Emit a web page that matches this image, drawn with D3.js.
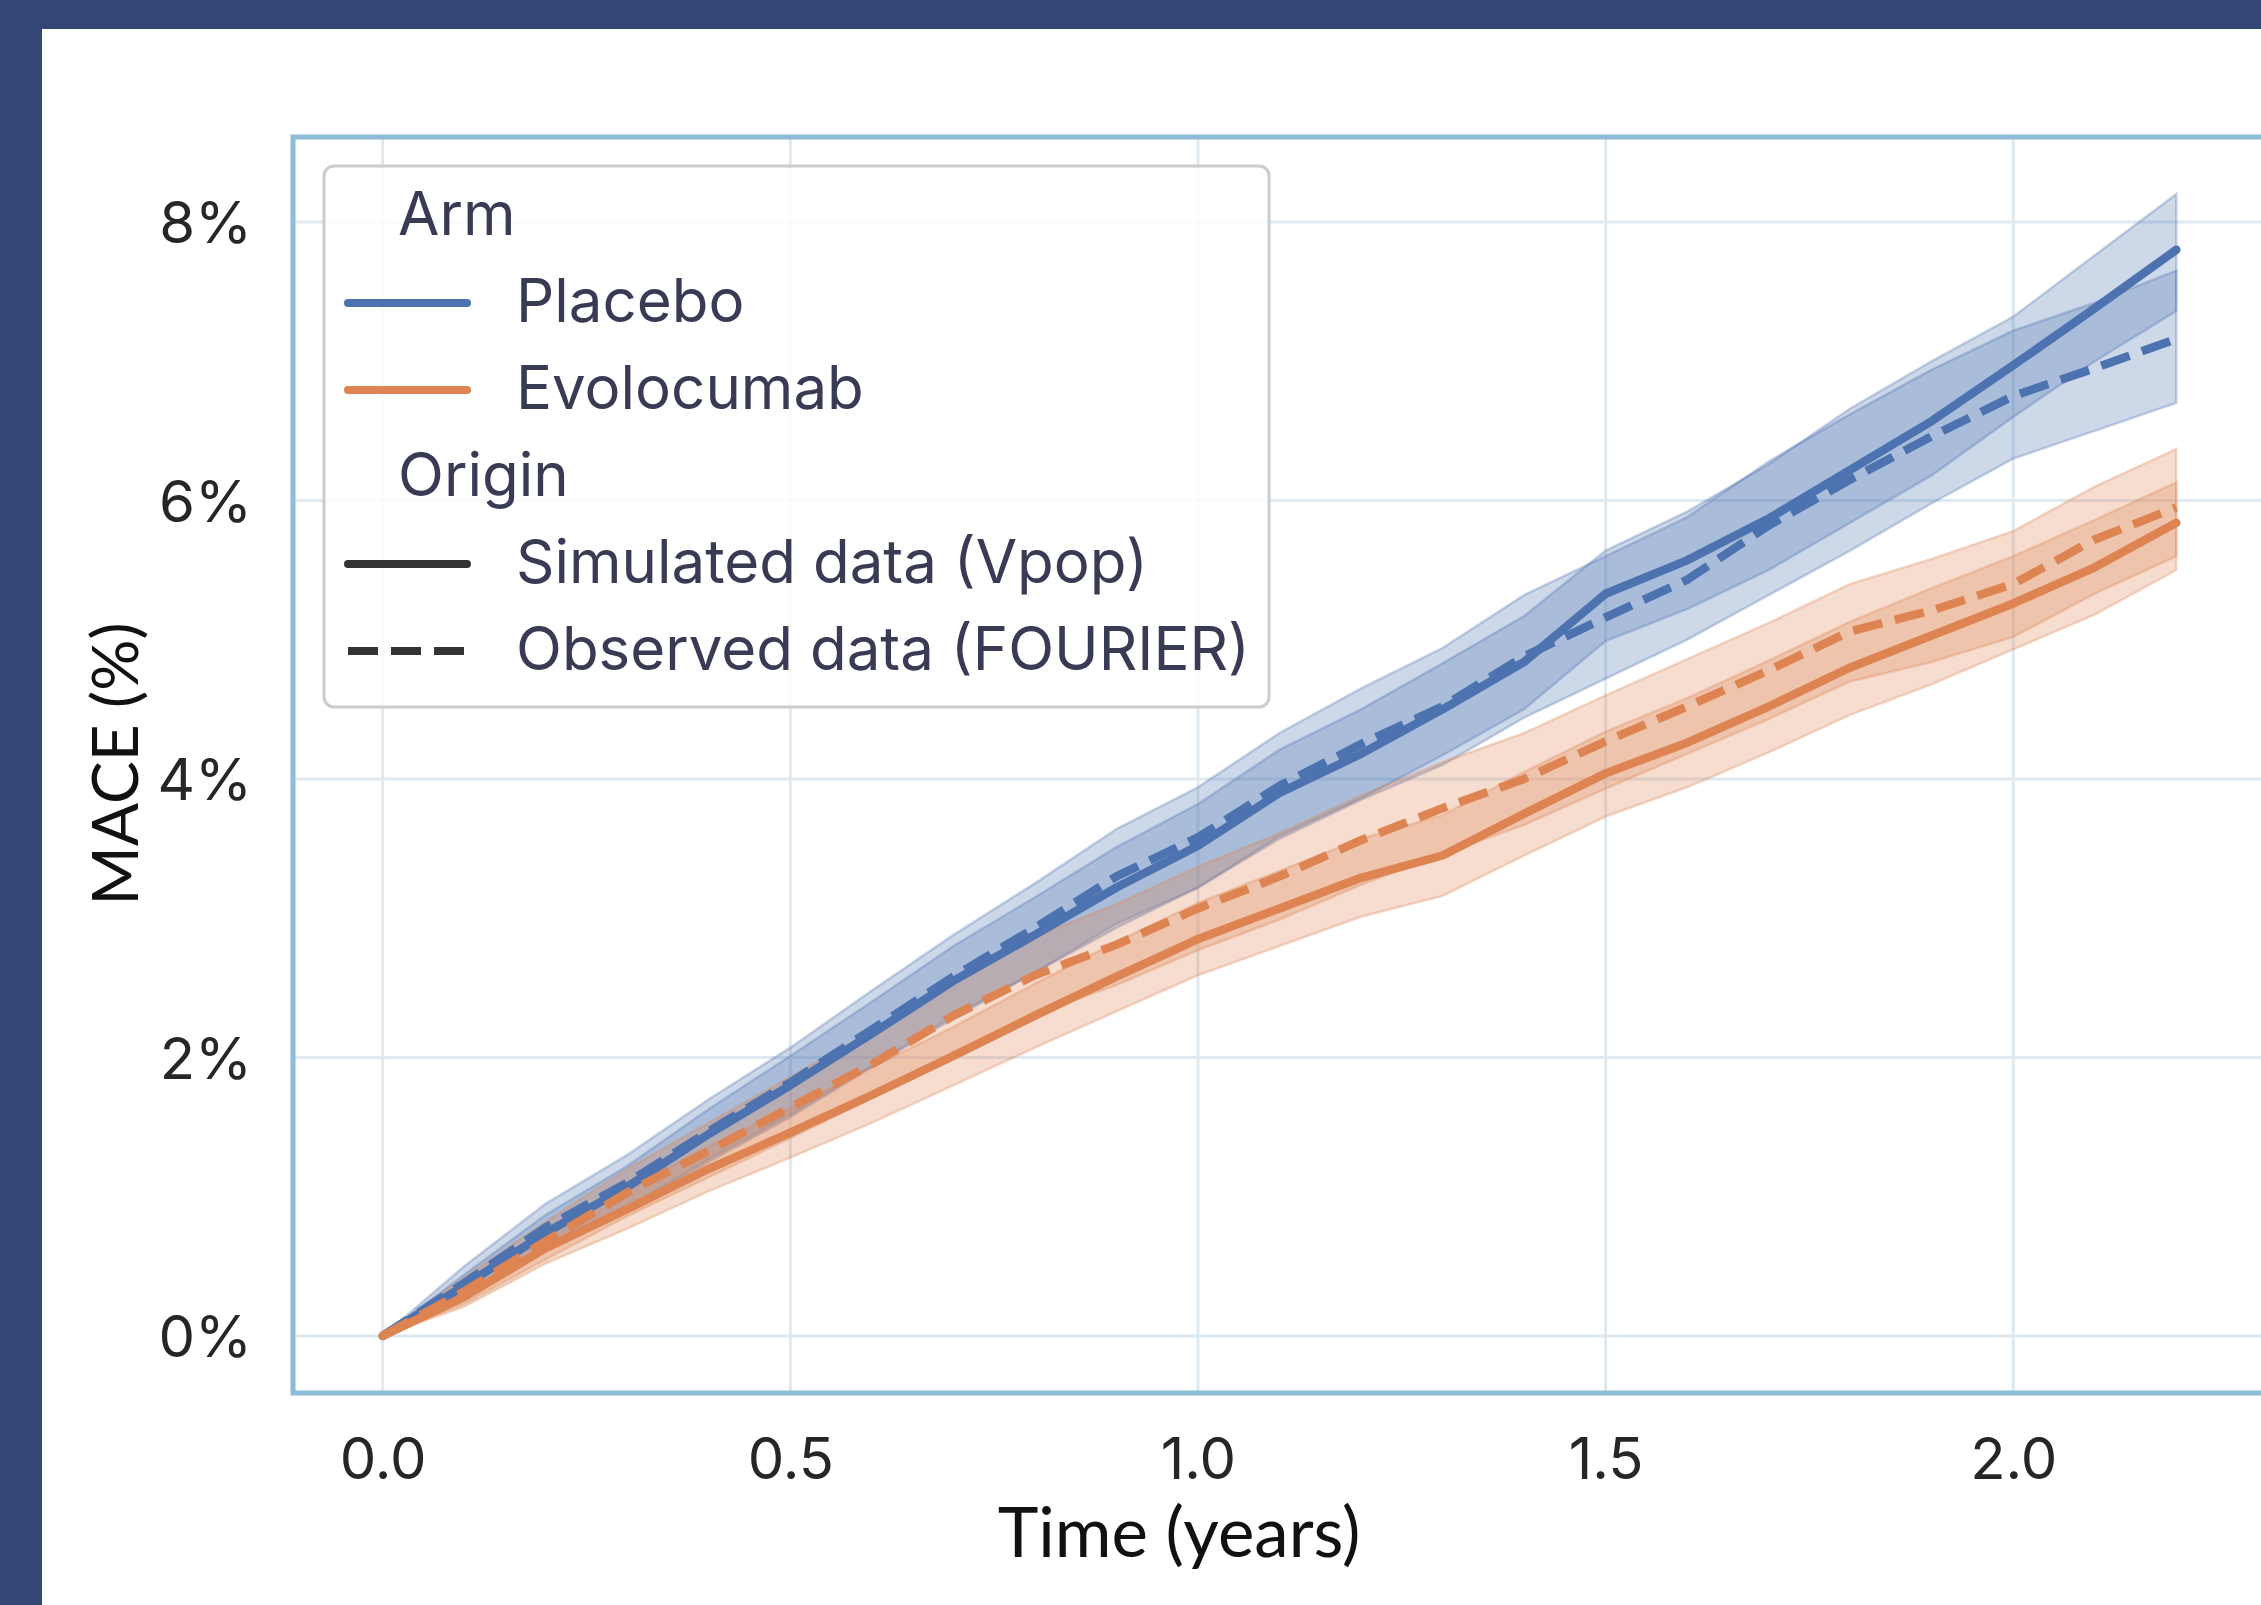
<!DOCTYPE html>
<html>
<head>
<meta charset="utf-8">
<script src="https://cdn.jsdelivr.net/npm/d3@7"></script>
<style>
  html, body { margin: 0; padding: 0; background: #fff; }
  svg { display: block; }
</style>
</head>
<body>
<div id="chart"></div>
<script>
// MACE cumulative incidence, simulated (Vpop) vs observed (FOURIER)

// time points (years)
const times = [0, 0.1, 0.2, 0.3, 0.4, 0.5, 0.6, 0.7, 0.8, 0.9, 1.0, 1.1,
  1.2, 1.3, 1.4, 1.5, 1.6, 1.7, 1.8, 1.9, 2.0, 2.1, 2.2];

// Placebo, simulated (Vpop), % with band
const placeboSim   = [0, 0.36, 0.74, 1.07, 1.45, 1.80, 2.17, 2.55, 2.88, 3.22, 3.52, 3.90, 4.18, 4.50, 4.84, 5.33, 5.57, 5.87, 6.22, 6.57, 6.97, 7.38, 7.80];
const placeboSimLo = [0, 0.28, 0.62, 0.92, 1.27, 1.59, 1.94, 2.30, 2.61, 2.93, 3.22, 3.59, 3.86, 4.17, 4.50, 4.99, 5.22, 5.50, 5.84, 6.18, 6.60, 7.00, 7.36];
const placeboSimHi = [0, 0.44, 0.87, 1.22, 1.63, 2.01, 2.40, 2.80, 3.15, 3.51, 3.82, 4.21, 4.50, 4.83, 5.17, 5.64, 5.92, 6.26, 6.66, 7.00, 7.32, 7.76, 8.20];

// Placebo, observed (FOURIER)
const placeboObs   = [0, 0.38, 0.78, 1.10, 1.47, 1.82, 2.20, 2.58, 2.93, 3.30, 3.58, 3.95, 4.25, 4.52, 4.88, 5.16, 5.43, 5.82, 6.15, 6.46, 6.75, 6.95, 7.16];
const placeboObsLo = [0, 0.27, 0.62, 0.91, 1.25, 1.57, 1.93, 2.28, 2.61, 2.96, 3.22, 3.57, 3.85, 4.10, 4.44, 4.72, 5.00, 5.32, 5.64, 5.98, 6.30, 6.50, 6.70];
const placeboObsHi = [0, 0.50, 0.95, 1.30, 1.70, 2.07, 2.48, 2.88, 3.25, 3.64, 3.94, 4.33, 4.65, 4.94, 5.32, 5.60, 5.88, 6.28, 6.62, 6.94, 7.22, 7.42, 7.65];

// Evolocumab, simulated (Vpop)
const evoSim   = [0, 0.28, 0.63, 0.91, 1.20, 1.46, 1.73, 2.01, 2.30, 2.58, 2.85, 3.07, 3.29, 3.45, 3.75, 4.04, 4.26, 4.52, 4.80, 5.03, 5.26, 5.52, 5.84];
const evoSimLo = [0, 0.21, 0.52, 0.77, 1.04, 1.28, 1.53, 1.80, 2.07, 2.33, 2.59, 2.80, 3.01, 3.16, 3.45, 3.73, 3.94, 4.19, 4.46, 4.68, 4.93, 5.18, 5.50];
const evoSimHi = [0, 0.35, 0.74, 1.05, 1.36, 1.64, 1.93, 2.22, 2.53, 2.83, 3.11, 3.34, 3.57, 3.74, 4.05, 4.34, 4.58, 4.85, 5.13, 5.37, 5.60, 5.86, 6.13];

// Evolocumab, observed (FOURIER)
const evoObs   = [0, 0.32, 0.68, 1.03, 1.33, 1.64, 1.95, 2.30, 2.59, 2.81, 3.07, 3.30, 3.56, 3.79, 4.00, 4.27, 4.52, 4.78, 5.06, 5.21, 5.40, 5.72, 5.95];
const evoObsLo = [0, 0.23, 0.55, 0.86, 1.14, 1.42, 1.71, 2.04, 2.31, 2.52, 2.77, 2.99, 3.24, 3.46, 3.67, 3.93, 4.18, 4.43, 4.70, 4.84, 5.02, 5.33, 5.60];
const evoObsHi = [0, 0.42, 0.82, 1.20, 1.53, 1.86, 2.19, 2.56, 2.87, 3.10, 3.37, 3.61, 3.88, 4.12, 4.33, 4.60, 4.86, 5.12, 5.40, 5.58, 5.78, 6.10, 6.37];

const xTicks = [0, 0.5, 1.0, 1.5, 2.0];
const yTicks = [0, 2, 4, 6, 8];

const armNames = ["Placebo", "Evolocumab"];
const originNames = ["Simulated data (Vpop)", "Observed data (FOURIER)"];
const armColors = { "Placebo": "#4c72b0", "Evolocumab": "#dd8452" };

// build series table from the arrays
const series = [
  { arm: "Placebo", origin: "sim", mid: placeboSim, lo: placeboSimLo, hi: placeboSimHi },
  { arm: "Placebo", origin: "obs", mid: placeboObs, lo: placeboObsLo, hi: placeboObsHi },
  { arm: "Evolocumab", origin: "sim", mid: evoSim, lo: evoSimLo, hi: evoSimHi },
  { arm: "Evolocumab", origin: "obs", mid: evoObs, lo: evoObsLo, hi: evoObsHi }
].map(s => ({
  ...s,
  points: times.map((t, i) => ({ t: t, y: s.mid[i], lo: s.lo[i], hi: s.hi[i] }))
}));

const W = 2261, H = 1605;
const plot = { left: 293, right: 2266, top: 137, bottom: 1393 };

const svg = d3.select("#chart").append("svg")
  .attr("width", W)
  .attr("height", H);

// page background + navy border strips
svg.append("rect").attr("width", W).attr("height", H).attr("fill", "#ffffff");
svg.append("rect").attr("x", 0).attr("y", 0).attr("width", W).attr("height", 29).attr("fill", "#344673");
svg.append("rect").attr("x", 0).attr("y", 0).attr("width", 42).attr("height", H).attr("fill", "#344673");

const x = d3.scaleLinear().domain([-0.11, 2.31]).range([plot.left, plot.right]);
const y = d3.scaleLinear().domain([-0.41, 8.61]).range([plot.bottom, plot.top]);

svg.append("defs").append("clipPath").attr("id", "plot-clip")
  .append("rect")
  .attr("x", plot.left).attr("y", plot.top)
  .attr("width", plot.right - plot.left).attr("height", plot.bottom - plot.top);

// gridlines
const grid = svg.append("g").attr("clip-path", "url(#plot-clip)");
grid.selectAll(".gx").data(xTicks).join("line")
  .attr("x1", d => x(d)).attr("x2", d => x(d))
  .attr("y1", plot.top).attr("y2", plot.bottom)
  .attr("stroke", "#dfe9f1").attr("stroke-width", 3);
grid.selectAll(".gy").data(yTicks).join("line")
  .attr("x1", plot.left).attr("x2", plot.right)
  .attr("y1", d => y(d)).attr("y2", d => y(d))
  .attr("stroke", "#dfe9f1").attr("stroke-width", 3);

const marks = svg.append("g").attr("clip-path", "url(#plot-clip)");

// confidence bands
const area = d3.area()
  .x(d => x(d.t))
  .y0(d => y(d.lo))
  .y1(d => y(d.hi));

marks.selectAll(".band").data(series).join("path")
  .attr("class", "band")
  .attr("d", d => area(d.points))
  .attr("fill", d => armColors[d.arm])
  .attr("fill-opacity", 0.28)
  .attr("stroke", d => armColors[d.arm])
  .attr("stroke-opacity", 0.3)
  .attr("stroke-width", 2.5);

// central lines
const line = d3.line()
  .x(d => x(d.t))
  .y(d => y(d.y));

marks.selectAll(".curve").data(series).join("path")
  .attr("class", "curve")
  .attr("d", d => line(d.points))
  .attr("fill", "none")
  .attr("stroke", d => armColors[d.arm])
  .attr("stroke-width", 8.5)
  .attr("stroke-linejoin", "round")
  .attr("stroke-linecap", d => d.origin === "sim" ? "round" : "butt")
  .attr("stroke-dasharray", d => d.origin === "obs" ? "30,13" : null);

// axes frame
svg.append("rect")
  .attr("x", plot.left).attr("y", plot.top)
  .attr("width", plot.right - plot.left).attr("height", plot.bottom - plot.top)
  .attr("fill", "none")
  .attr("stroke", "#8dbbd9")
  .attr("stroke-width", 5);

// tick labels (no tick marks)
const xAxis = d3.axisBottom(x).tickValues(xTicks).tickFormat(d3.format(".1f")).tickSize(0).tickPadding(0);
const yAxis = d3.axisLeft(y).tickValues(yTicks).tickFormat(d => d + "%").tickSize(0).tickPadding(0);

const gx = svg.append("g").attr("transform", `translate(0,${plot.bottom})`).call(xAxis);
gx.select(".domain").remove();
gx.selectAll("text")
  .attr("y", 86)
  .attr("dy", null)
  .attr("font-family", "Inter, 'Noto Sans', sans-serif")
  .attr("font-size", 58)
  .attr("fill", "#262626");

const gy = svg.append("g").attr("transform", `translate(${plot.left},0)`).call(yAxis);
gy.select(".domain").remove();
gy.selectAll("text")
  .attr("x", -41)
  .attr("dy", "0.36em")
  .attr("font-family", "Inter, 'Noto Sans', sans-serif")
  .attr("font-size", 58)
  .attr("fill", "#262626");

// axis titles
svg.append("text")
  .attr("x", 1179).attr("y", 1557)
  .attr("text-anchor", "middle")
  .attr("font-family", "Lato, 'Noto Sans', sans-serif")
  .attr("font-size", 69)
  .attr("fill", "#111")
  .text("Time (years)");

svg.append("text")
  .attr("transform", "translate(138,764) rotate(-90)")
  .attr("text-anchor", "middle")
  .attr("font-family", "Lato, 'Noto Sans', sans-serif")
  .attr("font-size", 64)
  .attr("fill", "#111")
  .text("MACE (%)");

// legend
const legend = svg.append("g").attr("class", "legend");
legend.append("rect")
  .attr("x", 324).attr("y", 166)
  .attr("width", 945).attr("height", 541)
  .attr("rx", 10).attr("ry", 10)
  .attr("fill", "#ffffff").attr("fill-opacity", 0.8)
  .attr("stroke", "#cccccc").attr("stroke-width", 3);

const legendFont = "Inter, 'Noto Sans', sans-serif";
const legendColor = "#383b53";
const rowStep = 87;

const legendRows = [
  { type: "title", text: "Arm" },
  ...armNames.map(a => ({ type: "arm", text: a })),
  { type: "title", text: "Origin" },
  ...originNames.map((o, i) => ({ type: "origin", text: o, dashed: i === 1 }))
];

legendRows.forEach((row, i) => {
  const base = 235 + i * rowStep;
  if (row.type === "title") {
    legend.append("text")
      .attr("x", 398).attr("y", base)
      .attr("font-family", legendFont).attr("font-size", 60)
      .attr("fill", legendColor)
      .text(row.text);
  } else {
    legend.append("line")
      .attr("x1", 348).attr("x2", 467)
      .attr("y1", base - 19).attr("y2", base - 19)
      .attr("stroke", row.type === "arm" ? armColors[row.text] : "#333333")
      .attr("stroke-width", 8)
      .attr("stroke-linecap", row.dashed ? "butt" : "round")
      .attr("stroke-dasharray", row.dashed ? "30,13" : null);
    legend.append("text")
      .attr("x", 516).attr("y", base)
      .attr("font-family", legendFont).attr("font-size", 60)
      .attr("fill", legendColor)
      .text(row.text);
  }
});
</script>
</body>
</html>
